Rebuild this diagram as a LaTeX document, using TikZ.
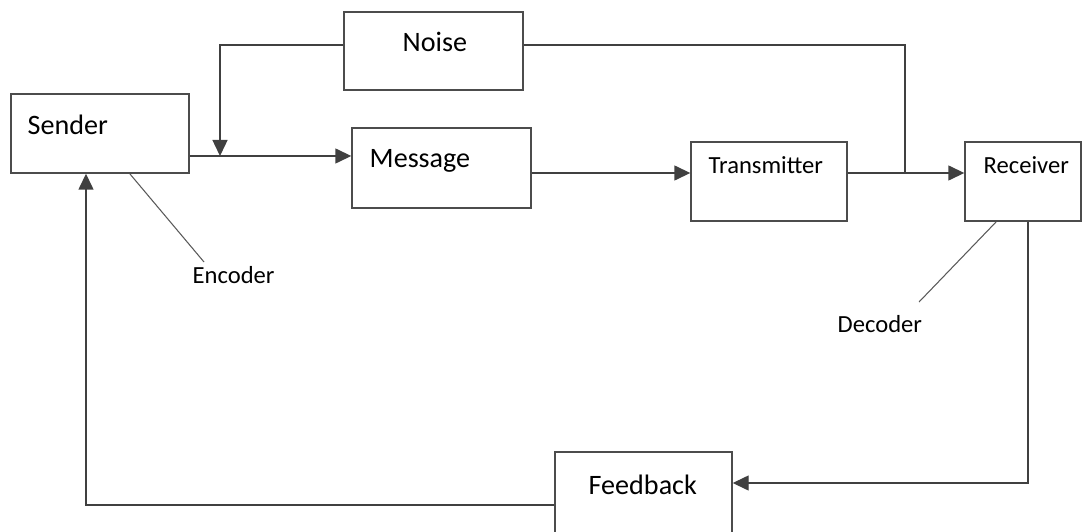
\documentclass[tikz,border=0pt]{standalone}
\usepackage{fontspec}
\setmainfont{Carlito}
\usetikzlibrary{arrows.meta,calc}

\begin{document}
\begin{tikzpicture}[>={Triangle[length=0.32cm,width=0.30cm]}, line width=0.8pt]

  \tikzset{
    box/.style={draw=black!70, fill=white, inner sep=0pt},
    flow/.style={draw=black!75},
    big/.style={font=\fontsize{16}{18}\selectfont, anchor=base west, inner sep=0pt},
    small/.style={font=\fontsize{14}{16}\selectfont, anchor=base west, inner sep=0pt}
  }

  \useasboundingbox (0,0) rectangle (21.66,10.62);

  % ==========================================
  % Les blocs
  % ==========================================
  \node[box, minimum width=3.56cm, minimum height=1.58cm] (sender)  at (2.00,7.95) {};
  \node[box, minimum width=3.58cm, minimum height=1.56cm] (noise)   at (8.67,9.60) {};
  \node[box, minimum width=3.58cm, minimum height=1.60cm] (message) at (8.83,7.26) {};
  \node[box, minimum width=3.12cm, minimum height=1.58cm] (transm)  at (15.38,6.99) {};
  \node[box, minimum width=2.32cm, minimum height=1.58cm] (recv)    at (20.46,6.99) {};
  \node[box, minimum width=3.54cm, minimum height=1.62cm] (feedb)   at (12.87,0.77) {};

  % Textes des blocs
  \node[big]   (sendertxt)  at (0.54,7.92)  {Sender};
  \node[big]   (noisetxt)   at (8.04,9.58)  {Noise};
  \node[big]   (messagetxt) at (7.38,7.26)  {Message};
  \node[small] (transmtxt)  at (14.16,7.14) {Transmitter};
  \node[small] (recvtxt)    at (19.66,7.14) {Receiver};
  \node[big]   (feedbtxt)   at (11.76,0.74) {Feedback};

  % Encodeur / décodeur
  \node[small] (enctxt) at (3.84,4.96)  {Encoder};
  \node[small] (dectxt) at (16.74,3.96) {Decoder};

  % ==========================================
  % Les liaisons
  % ==========================================
  \coordinate (out)   at ([yshift=-0.45cm]sender.east);
  \coordinate (join)  at (4.40,7.50);
  \coordinate (tap)   at (18.10,7.16);
  \coordinate (back)  at ([yshift=-0.25cm]feedb.west);
  \coordinate (down)  at ([xshift=0.10cm]recv.south);

  \draw[flow, ->] (out) -- (out -| message.west);
  \draw[flow, ->] ([yshift=0.12cm]noise.west) -| (join);
  \draw[flow] ([yshift=0.12cm]noise.east) -| (tap);
  \draw[flow, ->] ([yshift=-0.10cm]message.east) -- ([yshift=-0.10cm]message.east -| transm.west);
  \draw[flow, ->] ([yshift=0.17cm]transm.east) -- ([yshift=0.17cm]transm.east -| recv.west);
  \draw[flow, ->] (down) |- ([yshift=0.19cm]feedb.east);
  \draw[flow, ->] (back) -| ([xshift=-0.28cm]sender.south);

  % Traits fins vers les étiquettes
  \draw[black!65, line width=0.6pt] (2.60,7.14) -- (4.08,5.38);
  \draw[black!65, line width=0.6pt] (19.92,6.18) -- (18.38,4.58);

\end{tikzpicture}
\end{document}
